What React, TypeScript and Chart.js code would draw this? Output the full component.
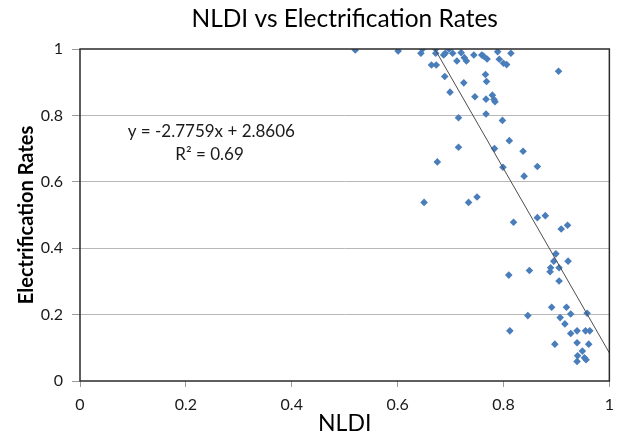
import React, { useEffect, useRef } from "react";
import { Chart, registerables } from "chart.js";

Chart.register(...registerables);

const nldi = [
  0.52, 0.601, 0.647, 0.644, 0.672, 0.672, 0.664, 0.673, 0.687, 0.69, 0.697, 0.704,
  0.72, 0.726, 0.73, 0.712, 0.744, 0.689, 0.725, 0.699, 0.746, 0.715, 0.715,
  0.759, 0.762, 0.769, 0.789, 0.814, 0.792, 0.8, 0.806, 0.904, 0.766, 0.768,
  0.767, 0.779, 0.782, 0.784, 0.767, 0.798, 0.811, 0.783, 0.837,
  0.799, 0.864, 0.839, 0.75, 0.819, 0.864, 0.879, 0.909, 0.921, 0.899, 0.895,
  0.922, 0.889, 0.905, 0.849, 0.675, 0.65, 0.734,
  0.81, 0.888, 0.905, 0.891, 0.919, 0.846, 0.907, 0.927, 0.916, 0.812, 0.927,
  0.939, 0.955, 0.963, 0.897, 0.939, 0.961, 0.949, 0.94, 0.953, 0.939, 0.956, 0.958,
];

const electrification = [
  0.997, 0.994, 1.0, 0.987, 1.0, 0.987, 0.952, 0.952, 0.982, 0.987, 1.0, 0.987,
  0.989, 0.974, 0.964, 0.964, 0.982, 0.917, 0.898, 0.87, 0.856, 0.793, 0.704,
  0.982, 0.979, 0.97, 0.992, 0.987, 0.969, 0.957, 0.953, 0.933, 0.923, 0.902,
  0.849, 0.861, 0.848, 0.841, 0.804, 0.785, 0.724, 0.7, 0.692,
  0.644, 0.646, 0.617, 0.554, 0.478, 0.492, 0.498, 0.458, 0.469, 0.383, 0.361,
  0.361, 0.341, 0.341, 0.333, 0.66, 0.538, 0.538,
  0.319, 0.329, 0.301, 0.222, 0.222, 0.197, 0.191, 0.202, 0.172, 0.151, 0.143,
  0.151, 0.151, 0.151, 0.111, 0.115, 0.111, 0.09, 0.076, 0.07, 0.059, 0.064, 0.204,
];

const trendSlope = -2.7759;
const trendIntercept = 2.8606;
const trendX = [0.6703, 1];
const equationLines = ["y = -2.7759x + 2.8606", "R² = 0.69"];
const equationAnchorX = [0.09, 0.18];
const equationAnchorY = [0.75, 0.681];

const FONT = "Lato, 'Open Sans', sans-serif";

export default function App() {
  const ref = useRef<HTMLCanvasElement | null>(null);

  useEffect(() => {
    document.body.style.margin = "0";
    const canvas = ref.current;
    if (!canvas) return;

    const points = nldi.map((x, i) => ({ x, y: electrification[i] }));
    const trend = trendX.map((x) => ({ x, y: trendSlope * x + trendIntercept }));

    const framePlugin = {
      id: "frame",
      afterDatasetsDraw(chart: any) {
        const { ctx, chartArea } = chart;
        ctx.save();
        ctx.strokeStyle = "#2a2a2a";
        ctx.lineWidth = 1.5;
        ctx.strokeRect(chartArea.left, chartArea.top, chartArea.right - chartArea.left, chartArea.bottom - chartArea.top);
        ctx.restore();
      },
      afterDraw(chart: any) {
        const { ctx } = chart;
        const xs = chart.scales.x;
        const ys = chart.scales.y;
        ctx.save();
        ctx.fillStyle = "#1a1a1a";
        ctx.font = `17px ${FONT}`;
        ctx.textAlign = "left";
        ctx.textBaseline = "middle";
        equationLines.forEach((t, i) => {
          ctx.fillText(t, xs.getPixelForValue(equationAnchorX[i]), ys.getPixelForValue(equationAnchorY[i]));
        });
        ctx.restore();
      },
    };

    const fmt = (v: any) => String(+Number(v).toFixed(1));

    const chart = new Chart(canvas, {
      type: "scatter",
      data: {
        datasets: [
          {
            label: "Linear trend",
            data: trend,
            showLine: true,
            borderColor: "#4d4d4d",
            borderWidth: 1,
            pointRadius: 0,
            fill: false,
          } as any,
          {
            label: "Electrification Rates",
            data: points,
            pointStyle: "rectRot",
            pointRadius: 3.8,
            backgroundColor: "#4a7ebb",
            borderColor: "#4a7ebb",
            borderWidth: 0,
          } as any,
        ],
      },
      options: {
        animation: false,
        responsive: false,
        devicePixelRatio: 1,
        layout: { padding: { top: 0, right: 9, bottom: 0, left: 0 } },
        plugins: {
          legend: { display: false },
          tooltip: { enabled: false },
          title: {
            display: true,
            text: "NLDI vs Electrification Rates",
            color: "#000",
            fullSize: false,
            font: { family: FONT, size: 24.5, weight: "normal" as any },
            padding: { top: 4.3, bottom: 15.3 },
          },
        },
        scales: {
          x: {
            type: "linear",
            min: 0,
            max: 1,
            afterFit(scale: any) {
              scale.height = 58;
            },
            ticks: {
              stepSize: 0.2,
              callback: fmt,
              color: "#1a1a1a",
              font: { family: FONT, size: 16 },
              padding: 8,
              maxRotation: 0,
            },
            grid: {
              drawOnChartArea: false,
              drawTicks: true,
              tickLength: 6,
              tickColor: "#9a9a9a",
            },
            border: { display: false },
            title: {
              display: true,
              text: "NLDI",
              color: "#000",
              font: { family: FONT, size: 23, weight: "normal" as any },
              padding: { top: 0, bottom: 1.5 },
            },
          },
          y: {
            type: "linear",
            min: 0,
            max: 1,
            afterFit(scale: any) {
              scale.width = 80;
            },
            ticks: {
              stepSize: 0.2,
              callback: fmt,
              color: "#1a1a1a",
              font: { family: FONT, size: 16 },
              padding: 9,
            },
            grid: {
              color: (c: any) => (c.tick && (c.tick.value === 0 || c.tick.value === 1) ? "rgba(0,0,0,0)" : "#b8b8b8"),
              lineWidth: 1,
              drawTicks: true,
              tickLength: 8,
              tickColor: "#9a9a9a",
            },
            border: { display: false },
            title: {
              display: true,
              text: "Electrification Rates",
              color: "#000",
              font: { family: FONT, size: 20, weight: "bold" as any },
              padding: { top: 15, bottom: 0 },
            },
          },
        },
      },
      plugins: [framePlugin],
    });

    return () => chart.destroy();
  }, []);

  return (
    <div style={{ width: 622, height: 439 }}>
      <canvas ref={ref} width={622} height={439} style={{ display: "block" }} />
    </div>
  );
}
